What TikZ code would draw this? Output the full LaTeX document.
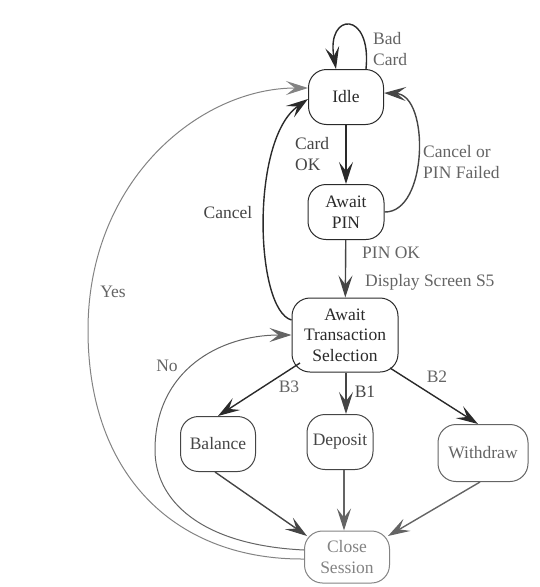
\documentclass[tikz,border=0pt]{standalone}
\usepackage{fontspec}
\setmainfont{Liberation Serif}
\usetikzlibrary{arrows.meta}
\definecolor{ink}{HTML}{2A2A2A}
\definecolor{mid}{HTML}{454545}
\definecolor{soft}{HTML}{646464}
\definecolor{pale}{HTML}{838383}
\begin{document}
\begin{tikzpicture}[x=1pt,y=-1pt,
  font=\fontsize{17.5}{20.5}\selectfont,
  state/.style={draw=#1, line width=1pt, rounded corners=18pt, inner sep=0pt,
                align=center, text=#1},
  state/.default=ink,
  tr/.style={draw=#1, line width=1.4pt,
             -{Stealth[length=22pt,width=14pt,inset=9pt]}},
  tr/.default=ink,
  thin tr/.style={tr=#1, line width=1pt},
  lbl/.style={text=#1, inner sep=0pt, align=left, anchor=west},
  lbl/.default=mid,
  clbl/.style={text=#1, inner sep=0pt},
  clbl/.default=mid,
]
\useasboundingbox (0,0) rectangle (539,587);

% states
\node[state, minimum width=75pt, minimum height=55pt] (idle) at (346,97) {Idle};
\node[state, minimum width=76pt, minimum height=55pt] (apin) at (346,212) {Await\\PIN};
\node[state, minimum width=106pt, minimum height=74pt] (ats) at (345,335) {Await\\Transaction\\Selection};
\node[state=mid, minimum width=75pt, minimum height=55pt] (balance) at (218,444) {Balance};
\node[state=mid, minimum width=66pt, minimum height=55pt] (deposit) at (340,442) {Deposit};
\node[state=soft, minimum width=90pt, minimum height=57pt] (withdraw) at (483,453) {Withdraw};
\node[state=pale, minimum width=85pt, minimum height=52pt] (close) at (347,557) {Close\\Session};

% transitions around Idle
\draw[tr] ([xshift=20pt]idle.north) .. controls (372,10) and (326,12) .. ([xshift=-10pt]idle.north);
\draw[tr] (idle) -- (apin);
\draw[tr=mid] (apin.east) .. controls (428,213) and (430,95) .. ([yshift=4pt]idle.east);
\draw[tr] ([yshift=15pt]ats.west) .. controls (255,310) and (250,140) .. ([yshift=-2pt]idle.west);
\draw[thin tr=pale] ([yshift=-2pt]close.west) .. controls (180,560) and (88,480) .. (88,330)
      .. controls (88,180) and (200,88) .. ([yshift=9pt]idle.west);
\draw[tr=mid] (apin) -- (ats);

% menu selection
\draw[tr] ([shift={(-45pt,-28pt)}]ats.center) -- (balance.north);
\draw[tr=mid] ([xshift=1pt]ats.south) -- ([xshift=6pt]deposit.north);
\draw[tr] ([shift={(45pt,-33pt)}]ats.center) -- ([xshift=-5pt]withdraw.north);
\draw[thin tr=soft] ([yshift=7pt]close.west) .. controls (200,545) and (155,500) .. (155,450)
      .. controls (155,370) and (220,335) .. (ats.west);

% into Close Session
\draw[tr=mid] ([xshift=-3pt]balance.south) -- ([shift={(-40pt,21pt)}]close.center);
\draw[tr=soft] ([xshift=4pt]deposit.south) -- ([xshift=-3pt]close.north);
\draw[tr=soft] ([xshift=-3pt]withdraw.south) -- ([shift={(41pt,21pt)}]close.center);

% labels
\node[lbl=soft] (lbad) at (373,49) {Bad\\Card};
\node[lbl] (lcard) at (295,154) {Card\\OK};
\node[lbl=soft] (lpinf) at (423,162) {Cancel or\\PIN Failed};
\node[clbl] (lcancel) at (228,213) {Cancel};
\node[lbl=soft] (lpinok) at (362,253) {PIN OK};
\node[lbl=soft] (ldisp) at (365,282) {Display Screen S5};
\node[clbl=soft] (lyes) at (113,292) {Yes};
\node[clbl=soft] (lno) at (167,366) {No};
\node[clbl=soft] (lb3) at (289,387) {B3};
\node[clbl] (lb1) at (365,392) {B1};
\node[clbl=soft] (lb2) at (437,377) {B2};
\end{tikzpicture}
\end{document}
